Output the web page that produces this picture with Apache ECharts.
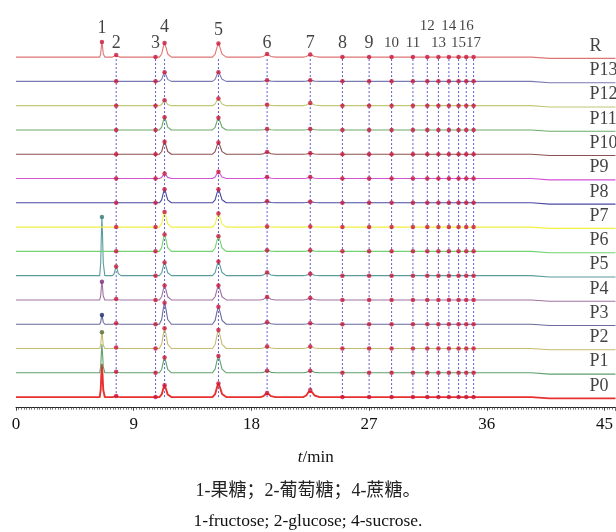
<!DOCTYPE html>
<html><head><meta charset="utf-8">
<script src="https://cdn.jsdelivr.net/npm/echarts@6/dist/echarts.min.js"></script>
<style>html,body{margin:0;padding:0;background:#fff}#c{width:616px;height:532px}</style>
</head><body><div id="c"></div>
<script>
// ---------------- data ----------------
const TRACE_NAMES = ['P0','P1','P2','P3','P4','P5','P6','P7','P8','P9','P10','P11','P12','P13','R'];
const TRACE_COLORS = ['#e8302f','#5fa06e','#c6bc72','#6a6a9c','#a272a2','#5c9c9c','#72d272','#f2f040',
                      '#4a4aa2','#d452d4','#8c5050','#6aaa6a','#c2c874','#7a7ab2','#e07474'];
const PEAK_LABELS = ['1','2','3','4','5','6','7','8','9','10','11','12','13','14','15','16','17'];
const PEAK_TIMES  = [6.57,7.66,10.67,11.36,15.48,19.2,22.5,24.96,27.0,28.72,30.35,31.45,32.3,33.1,33.84,34.43,34.99];
const PEAK_HALF_WIDTHS = [0.17,0.28,0.28,0.4,0.46,0.5,0.55,0.3,0.3,0.3,0.3,0.3,0.3,0.3,0.3,0.3,0.3];
const PEAK_LABEL_Y = [375,360.2,360.2,375.5,372.7,360.2,360.2,360.2,360.2,360.2,360.2,377.2,360.2,377.2,360.2,377.2,360.2];
// peak heights (axis units) per trace, peaks 1..17
const H_P0  = [32,1,0,11.7,13.4,4,7,0,0,0,0,0,0,0,0,0,0];
const H_P1  = [28,1,0,15,16.6,2,2,0,0,0,0,0,0,0,0,0,0];
const H_P2  = [16,1,0,20,18.3,2,2,0,0,0,0,0,0,0,0,0,0];
const H_P3  = [9,1,0,21.3,17.3,2,1,0,0,0,0,0,0,0,0,0,0];
const H_P4  = [18,1,0,14.3,14.3,3,2,0,0,0,0,0,0,0,0,0,0];
const H_P5  = [58,9,0,13,14,3,2,0,0,0,0,0,0,0,0,0,0];
const H_P6  = [0,0,0,16.7,15,1,1,0,0,0,0,0,0,0,0,0,0];
const H_P7  = [0,0,0,15,13.4,0.5,0.5,0,0,0,0,0,0,0,0,0,0];
const H_P8  = [0,0,0,13.4,13.4,1.5,1,0,0,0,0,0,0,0,0,0,0];
const H_P9  = [0,0,0,5,6.6,1.5,1.5,0,0,0,0,0,0,0,0,0,0];
const H_P10 = [0,0,0,12.3,11.7,2.3,1,0,0,0,0,0,0,0,0,0,0];
const H_P11 = [0,0,0,12.6,12,1,1,0,0,0,0,0,0,0,0,0,0];
const H_P12 = [0,0,0,5.3,7,1,2.6,0,0,0,0,0,0,0,0,0,0];
const H_P13 = [0,0,0,9,9,1,1,0,0,0,0,0,0,0,0,0,0];
const H_R   = [15,2,0,14,13.4,3,2.5,0,0,0,0,0,0,0,0,0,0];
const HEIGHTS = [H_P0,H_P1,H_P2,H_P3,H_P4,H_P5,H_P6,H_P7,H_P8,H_P9,H_P10,H_P11,H_P12,H_P13,H_R];
const PEAK1_DOT_COLORS = [null,null,'#4d6b2a','#1f2a6b','#7a2a7a','#2f7b7b',null,null,null,null,null,null,null,null,'#c8183c'];
// peak profile template: [offset in half-widths, fraction of height]
const PEAK_SHAPE = [[-1,0],[-0.55,0.22],[-0.22,0.75],[0,1],[0.25,0.72],[0.6,0.22],[1.3,0]];
// slight baseline drop near the end of the run
const DRIFT = [[39.4,0],[40.8,-1.3]];
const X_TICKS = [0,9,18,27,36,45];
const BASE0 = 10.5, OFFSET = 24, XMAX = 45.84, YMAX = 396;
const DOT_COLOR = '#c8183c';
const SERIF = '"Liberation Serif","Times New Roman",serif';

// ---------------- build ----------------
const base = i => BASE0 + OFFSET * i;
const series = [];
TRACE_NAMES.forEach((name, i) => {
  const b = base(i), pts = [[0, b]];
  HEIGHTS[i].forEach((h, k) => {
    if (h <= 0) return;
    const t = PEAK_TIMES[k], w = PEAK_HALF_WIDTHS[k];
    PEAK_SHAPE.forEach(([dx, f]) => pts.push([t + dx * w, b + f * h]));
  });
  DRIFT.forEach(([t, d]) => pts.push([t, b + d]));
  pts.push([XMAX, b + DRIFT[DRIFT.length - 1][1]]);
  series.push({
    type: 'line', name, data: pts, symbol: 'none', silent: true, z: 3,
    lineStyle: { color: TRACE_COLORS[i], width: i === 0 ? 1.9 : 1.1, join: 'round' }
  });
});
// dashed guide lines (peaks 2..17)
PEAK_TIMES.forEach((t, k) => {
  if (k === 0) return;
  series.push({
    type: 'line', data: [[t, base(0)], [t, base(TRACE_NAMES.length - 1)]], symbol: 'none', silent: true, z: 2,
    lineStyle: { color: '#5c5cd0', width: 1, type: [2, 2] }
  });
});
// dots at peak positions
const dots = [];
TRACE_NAMES.forEach((name, i) => {
  HEIGHTS[i].forEach((h, k) => {
    if (k === 0) {
      if (PEAK1_DOT_COLORS[i]) dots.push({ value: [PEAK_TIMES[0], base(i) + h], itemStyle: { color: PEAK1_DOT_COLORS[i] } });
    } else {
      dots.push({ value: [PEAK_TIMES[k], base(i) + h] });
    }
  });
});
series.push({ type: 'scatter', data: dots, symbolSize: 4.5, silent: true, z: 10, itemStyle: { color: DOT_COLOR } });
// peak number labels
series.push({
  type: 'scatter', symbolSize: 0, silent: true, z: 11,
  data: PEAK_LABELS.map((s, k) => ({
    value: [PEAK_TIMES[k], PEAK_LABEL_Y[k], s],
    label: { fontSize: s.length > 1 ? 15 : 18 }
  })),
  label: { show: true, position: 'inside', formatter: p => p.value[2], color: '#111', fontFamily: SERIF }
});
// trace name labels
series.push({
  type: 'scatter', symbolSize: 0, silent: true, z: 11,
  data: TRACE_NAMES.map((n, i) => ({ value: [43.85, base(i) + 10.9, n] })),
  label: { show: true, position: 'right', distance: 0, formatter: p => p.value[2], color: '#111', fontFamily: SERIF, fontSize: 18 }
});

const chart = echarts.init(document.getElementById('c'), null, { renderer: 'canvas' });
chart.setOption({
  animation: false,
  backgroundColor: '#fff',
  grid: { left: 16, right: 0, top: 7, bottom: 124.3 },
  xAxis: {
    type: 'value', min: 0, max: XMAX, interval: 9,
    name: '{i|t}/min', nameLocation: 'middle', nameGap: 41,
    nameTextStyle: { fontFamily: SERIF, fontSize: 17, color: '#111', rich: { i: { fontStyle: 'italic', fontFamily: SERIF, fontSize: 17, color: '#111' } } },
    axisLine: { lineStyle: { color: '#222', width: 1 } },
    axisTick: { show: true, length: 3, lineStyle: { color: '#444' } },
    minorTick: { show: true, splitNumber: 45, length: 2, lineStyle: { color: '#777' } },
    splitLine: { show: false },
    axisLabel: { showMaxLabel: false, margin: 8, fontFamily: SERIF, fontSize: 17, color: '#111',
      formatter: v => X_TICKS.includes(v) ? String(v) : '' }
  },
  yAxis: { type: 'value', min: 0, max: YMAX, show: false },
  title: [
    { text: '1-果糖；2-葡萄糖；4-蔗糖。', left: 'center', top: 477,
      textStyle: { fontFamily: '"Liberation Serif","Noto Sans CJK SC",serif', fontSize: 18, fontWeight: 'normal', color: '#222' } },
    { text: '1-fructose; 2-glucose; 4-sucrose.', left: 'center', top: 507,
      textStyle: { fontFamily: SERIF, fontSize: 17.5, fontWeight: 'normal', color: '#111' } }
  ],
  series
});
</script></body></html>
